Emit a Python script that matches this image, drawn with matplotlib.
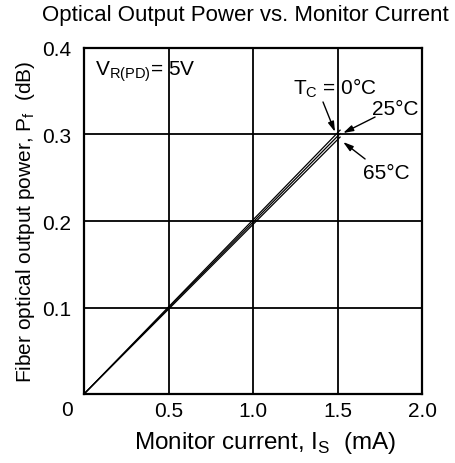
import matplotlib
matplotlib.use('Agg')
from matplotlib import pyplot as plt

# monitor current (mA) and fiber output power (dB) per case temperature
current = [0.0, 1.515]
power_0c = [0.0, 0.305]
power_25c = [0.0, 0.301]
power_65c = [0.0, 0.297]

x_ticks = [0.5, 1.0, 1.5, 2.0]
x_tick_labels = ['0.5', '1.0', '1.5', '2.0']
y_ticks = [0.1, 0.2, 0.3, 0.4]
y_tick_labels = ['0.1', '0.2', '0.3', '0.4']

plt.rcParams['font.family'] = ['Liberation Sans', 'DejaVu Sans']
fs = 15

fig = plt.figure(figsize=(4.55, 4.64), dpi=100)
ax = fig.add_axes([0.1846, 0.1487, 0.743, 0.7457])

ax.plot(current, power_0c, color='black', lw=0.9)
ax.plot(current, power_25c, color='black', lw=0.9)
ax.plot(current, power_65c, color='black', lw=0.9)

ax.set_xlim(0, 2.0)
ax.set_ylim(0, 0.4)
ax.set_xticks(x_ticks)
ax.set_xticklabels(x_tick_labels)
ax.set_yticks(y_ticks)
ax.set_yticklabels(y_tick_labels)
ax.tick_params(length=0, labelsize=fs)
ax.tick_params(axis='x', pad=5)
ax.tick_params(axis='y', pad=9)
ax.grid(True, color='black', lw=1.3)
for s in ax.spines.values():
    s.set_linewidth(1.6)

ax.text(-0.033, -0.017, '0', transform=ax.transAxes, fontsize=fs,
        ha='right', va='top')

ax.set_xlabel('Monitor current, I$_\\mathregular{S}$  (mA)', fontsize=17.5)
ax.xaxis.set_label_coords(0.535, -0.1)
ax.set_ylabel('Fiber optical output power, P$_\\mathregular{f}$  (dB)', fontsize=fs, labelpad=4)
fig.text(0.54, 0.967, 'Optical Output Power vs. Monitor Current', fontsize=16,
         ha='center', va='center')

ax.text(0.065, 0.37, 'V$_\\mathregular{R(PD)}$= 5V', fontsize=fs, va='baseline')

ax.text(1.237, 0.347, 'T$_\\mathregular{C}$ = 0°C', fontsize=fs, va='baseline')
ax.text(1.704, 0.3237, '25°C', fontsize=fs, va='baseline')
ax.text(1.651, 0.2497, '65°C', fontsize=fs, va='baseline')

arrow = dict(arrowstyle='-|>,head_length=0.6,head_width=0.18', color='black',
             lw=1.0, shrinkA=0, shrinkB=0)
ax.annotate('', xy=(1.485, 0.303), xytext=(1.414, 0.3376), arrowprops=arrow)
ax.annotate('', xy=(1.533, 0.3017), xytext=(1.722, 0.3202), arrowprops=arrow)
ax.annotate('', xy=(1.533, 0.2913), xytext=(1.663, 0.2717), arrowprops=arrow)

fig.savefig('out.png', dpi=100)
